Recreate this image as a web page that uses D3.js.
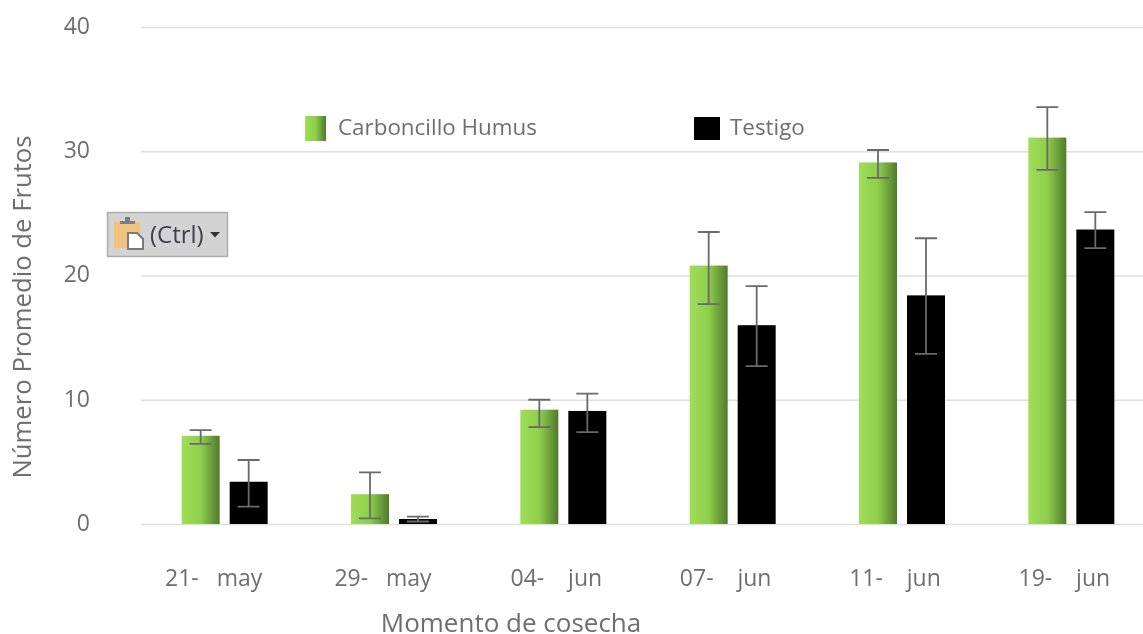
<!DOCTYPE html>
<html>
<head>
<meta charset="utf-8">
<script src="https://cdn.jsdelivr.net/npm/d3@7"></script>
<style>
  html, body { margin: 0; padding: 0; background: #fff; overflow: hidden; }
  text { font-family: "Open Sans", "DejaVu Sans", sans-serif; fill: #6e6e6e; }
  .grid line { stroke: #e0e0e0; stroke-width: 1.6px; }
  .err { stroke: #6a6a6a; stroke-width: 1.8px; fill: none; }
</style>
</head>
<body>
<script>
var categories = ["21-   may", "29-   may", "04-    jun", "07-    jun", "11-    jun", "19-    jun"];
var seriesNames = ["Carboncillo Humus", "Testigo"];
var humus = [7.1, 2.4, 9.2, 20.8, 29.1, 31.1];
var testigo = [3.4, 0.4, 9.1, 16, 18.4, 23.7];
var humusLow = [6.45, 0.45, 7.8, 17.7, 27.85, 28.5];
var humusHigh = [7.55, 4.15, 10, 23.5, 30.1, 33.55];
var testigoLow = [1.4, 0.2, 7.4, 12.7, 13.7, 22.2];
var testigoHigh = [5.15, 0.6, 10.5, 19.15, 23, 25.1];
var yTicks = [0, 10, 20, 30, 40];

var width = 1143, height = 634;

var x = d3.scaleBand().domain(categories).range([140, 1156]);
var xs = d3.scaleBand().domain(seriesNames).range([-43, 43]).paddingInner(10 / 48);
var y = d3.scaleLinear().domain([0, 40]).range([524, 27]);

var svg = d3.select("body").append("svg")
    .attr("width", width)
    .attr("height", height)
    .style("display", "block");

var defs = svg.append("defs");

var grad = defs.append("linearGradient").attr("id", "green");
grad.append("stop").attr("offset", "0%").attr("stop-color", "#a0de58");
grad.append("stop").attr("offset", "50%").attr("stop-color", "#8fce4c");
grad.append("stop").attr("offset", "100%").attr("stop-color", "#507a2c");

// the reference is a slightly soft screenshot
defs.append("filter").attr("id", "soft")
  .append("feGaussianBlur").attr("stdDeviation", 0.5);

var root = svg.append("g").attr("filter", "url(#soft)");

// y axis and gridlines
var yAxis = root.append("g")
    .attr("class", "grid")
    .attr("transform", "translate(141,0)")
    .call(d3.axisLeft(y).tickValues(yTicks).tickSize(-(width - 141)).tickPadding(51));
yAxis.select(".domain").remove();
yAxis.selectAll("text").style("font-size", "23px").attr("y", -1);

// x axis labels
var xAxis = root.append("g")
    .attr("transform", "translate(0,524)")
    .call(d3.axisBottom(x).tickSize(0).tickPadding(46));
xAxis.select(".domain").remove();
xAxis.selectAll("text")
    .style("font-size", "23px")
    .style("white-space", "pre")
    .attr("dx", function(d) { return d.indexOf("may") > 0 ? -11 : -7; });

// bars
var series = [
  { name: seriesNames[0], values: humus, low: humusLow, high: humusHigh, fill: "url(#green)" },
  { name: seriesNames[1], values: testigo, low: testigoLow, high: testigoHigh, fill: "#000" }
];

series.forEach(function(s) {
  var g = root.append("g");

  g.selectAll("rect")
      .data(categories)
    .enter().append("rect")
      .attr("x", function(d) { return x(d) + x.bandwidth() / 2 + xs(s.name); })
      .attr("width", xs.bandwidth())
      .attr("y", function(d, i) { return y(s.values[i]); })
      .attr("height", function(d, i) { return y(0) - y(s.values[i]); })
      .attr("fill", s.fill);

  // error bars
  g.selectAll("path")
      .data(categories)
    .enter().append("path")
      .attr("class", "err")
      .attr("d", function(d, i) {
        var c = x(d) + x.bandwidth() / 2 + xs(s.name) + xs.bandwidth() / 2;
        var cap = 11;
        return "M" + (c - cap) + "," + y(s.high[i]) + "H" + (c + cap)
             + "M" + c + "," + y(s.high[i]) + "V" + y(s.low[i])
             + "M" + (c - cap) + "," + y(s.low[i]) + "H" + (c + cap);
      });
});

// axis titles
root.append("text")
    .attr("transform", "translate(31,307) rotate(-90)")
    .attr("text-anchor", "middle")
    .style("font-size", "25.7px")
    .text("Número Promedio de Frutos");

root.append("text")
    .attr("x", 511)
    .attr("y", 632)
    .attr("text-anchor", "middle")
    .style("font-size", "26px")
    .text("Momento de cosecha");

// legend
var legend = root.append("g");
legend.append("rect").attr("x", 305).attr("y", 116).attr("width", 21).attr("height", 25).attr("fill", "url(#green)");
legend.append("text").attr("x", 338).attr("y", 135).style("font-size", "22.4px").text(seriesNames[0]);
legend.append("rect").attr("x", 694).attr("y", 117).attr("width", 26).attr("height", 23).attr("fill", "#000");
legend.append("text").attr("x", 730).attr("y", 135).style("font-size", "22.4px").text(seriesNames[1]);

// paste options button left over in the screenshot
var btn = root.append("g").attr("transform", "translate(107,212)");
btn.append("rect").attr("x", 0.5).attr("y", 0.5).attr("width", 120).attr("height", 44)
    .attr("fill", "#d3d3d3").attr("stroke", "#ababab").attr("stroke-width", 1.4);
btn.append("rect").attr("x", 7).attr("y", 10).attr("width", 26).attr("height", 26).attr("fill", "#efc27e");
btn.append("rect").attr("x", 13).attr("y", 9).attr("width", 15).attr("height", 3).attr("fill", "#7d7d7d");
btn.append("rect").attr("x", 18).attr("y", 5).attr("width", 5).attr("height", 5).attr("fill", "#7d7d7d");
btn.append("path").attr("d", "M21,21H30L36,27V37H21Z").attr("fill", "#fff").attr("stroke", "#7a7a7a").attr("stroke-width", 2);
btn.append("text").attr("x", 43).attr("y", 31).style("font-size", "24px").style("fill", "#3d3d50").text("(Ctrl)");
btn.append("path").attr("d", "M103,20H113L108,25.5Z").attr("fill", "#333");
</script>
</body>
</html>
